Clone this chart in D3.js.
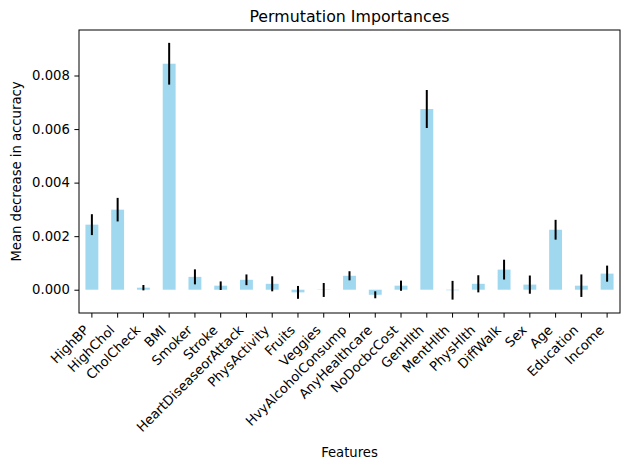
<!DOCTYPE html>
<html>
<head>
<meta charset="utf-8">
<script src="https://cdn.jsdelivr.net/npm/d3@7"></script>
<style>
  body { margin: 0; background: #fff; }
  svg text { font-family: "DejaVu Sans", sans-serif; fill: #000; }
</style>
</head>
<body>
<div id="chart"></div>
<script>
// feature names, mean importance and std
var features = ["HighBP", "HighChol", "CholCheck", "BMI", "Smoker", "Stroke",
    "HeartDiseaseorAttack", "PhysActivity", "Fruits", "Veggies", "HvyAlcoholConsump",
    "AnyHealthcare", "NoDocbcCost", "GenHlth", "MentHlth", "PhysHlth", "DiffWalk",
    "Sex", "Age", "Education", "Income"];
var importances = [0.00243, 0.00299, 0.000075, 0.00844, 0.00048, 0.00015,
    0.00037, 0.00022, -0.0001, -0.00001, 0.00052,
    -0.00019, 0.00015, 0.00675, -0.00002, 0.00022, 0.00075,
    0.00019, 0.00224, 0.00015, 0.0006];
var stds = [0.00039, 0.00044, 0.0001, 0.00078, 0.00028, 0.00016,
    0.0002, 0.00028, 0.00024, 0.00026, 0.00017,
    0.00013, 0.00019, 0.00071, 0.00035, 0.00032, 0.00037,
    0.00034, 0.00037, 0.00042, 0.0003];
var yTicks = [0, 0.002, 0.004, 0.006, 0.008];

var dataset = features.map(function (f, i) {
    return { name: f, value: importances[i], std: stds[i] };
});

function makeBars(dataset) {
    let width = 630;
    let height = 470;
    let margin = { top: 30, right: 10, bottom: 157, left: 79 };
    let fontSize = "13.2px";

    var xScale = d3.scaleBand()
        .domain(features)
        .range([margin.left, width - margin.right])
        .paddingInner(0.5)
        .paddingOuter(0.25);

    var yScale = d3.scaleLinear()
        .domain([-0.00087, 0.0097])
        .range([height - margin.bottom, margin.top]);

    var svg = d3.select("#chart")
        .append("svg")
        .attr("width", width)
        .attr("height", height);

    svg.selectAll("rect.bar")
        .data(dataset)
        .enter()
        .append("rect")
        .attr("class", "bar")
        .attr("x", function (d) { return xScale(d.name); })
        .attr("width", xScale.bandwidth())
        .attr("y", function (d) { return yScale(Math.max(0, d.value)); })
        .attr("height", function (d) { return Math.abs(yScale(d.value) - yScale(0)); })
        .attr("fill", "skyblue")
        .attr("fill-opacity", 0.8);

    // error bars, no caps
    svg.selectAll("line.err")
        .data(dataset)
        .enter()
        .append("line")
        .attr("class", "err")
        .attr("x1", function (d) { return xScale(d.name) + xScale.bandwidth() / 2; })
        .attr("x2", function (d) { return xScale(d.name) + xScale.bandwidth() / 2; })
        .attr("y1", function (d) { return yScale(d.value - d.std); })
        .attr("y2", function (d) { return yScale(d.value + d.std); })
        .attr("stroke", "#000")
        .attr("stroke-width", 2);

    // axes
    let xAxis = d3.axisBottom(xScale).tickSize(4.6).tickSizeOuter(0);
    let gx = svg.append("g")
        .attr("transform", "translate(0," + (height - margin.bottom) + ")")
        .call(xAxis);
    gx.select(".domain").remove();
    gx.selectAll("line").attr("stroke", "#000").attr("stroke-width", 1);
    gx.selectAll("text")
        .style("font-size", fontSize)
        .attr("text-anchor", "end")
        .attr("dy", 0)
        .attr("transform", "translate(-2.2,17.9) rotate(-45)")
        .attr("y", 0)
        .attr("x", 0);

    let yAxis = d3.axisLeft(yScale)
        .tickValues(yTicks)
        .tickFormat(d3.format(".3f"))
        .tickSize(4.6)
        .tickPadding(4.6);
    let gy = svg.append("g")
        .attr("transform", "translate(" + margin.left + ",0)")
        .call(yAxis);
    gy.select(".domain").remove();
    gy.selectAll("line").attr("stroke", "#000").attr("stroke-width", 1);
    gy.selectAll("text").style("font-size", fontSize);

    // frame
    svg.append("rect")
        .attr("x", margin.left)
        .attr("y", margin.top)
        .attr("width", width - margin.left - margin.right)
        .attr("height", height - margin.top - margin.bottom)
        .attr("fill", "none")
        .attr("stroke", "#000")
        .attr("stroke-width", 1);

    // title and labels
    svg.append("text")
        .attr("x", (margin.left + width - margin.right) / 2)
        .attr("y", 22)
        .style("text-anchor", "middle")
        .style("font-size", "15.8px")
        .text("Permutation Importances");

    svg.append("text")
        .attr("x", (margin.left + width - margin.right) / 2)
        .attr("y", 457)
        .style("text-anchor", "middle")
        .style("font-size", fontSize)
        .text("Features");

    svg.append("text")
        .attr("transform", "rotate(-90)")
        .attr("x", -(margin.top + height - margin.bottom) / 2)
        .attr("y", 21)
        .style("text-anchor", "middle")
        .style("font-size", fontSize)
        .text("Mean decrease in accuracy");
}

makeBars(dataset);
</script>
</body>
</html>
